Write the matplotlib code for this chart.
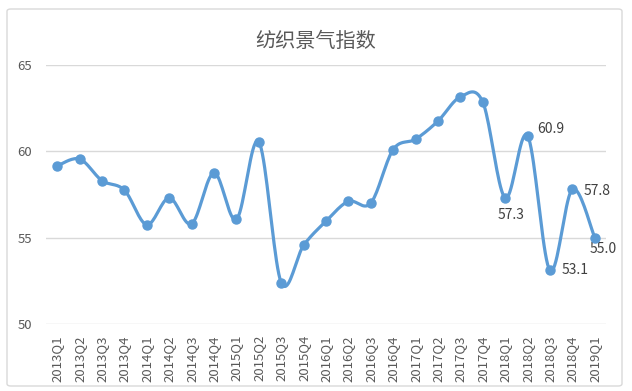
import numpy as np
import matplotlib.pyplot as plt
from matplotlib.patches import FancyBboxPatch

plt.rcParams['font.family'] = ['Noto Sans CJK SC', 'DejaVu Sans']

# === Data ===
quarters = ["2013Q1", "2013Q2", "2013Q3", "2013Q4",
            "2014Q1", "2014Q2", "2014Q3", "2014Q4",
            "2015Q1", "2015Q2", "2015Q3", "2015Q4",
            "2016Q1", "2016Q2", "2016Q3", "2016Q4",
            "2017Q1", "2017Q2", "2017Q3", "2017Q4",
            "2018Q1", "2018Q2", "2018Q3", "2018Q4",
            "2019Q1"]
index_values = [59.15, 59.55, 58.3, 57.75,
                55.75, 57.3, 55.8, 58.75,
                56.05, 60.55, 52.4, 54.55,
                55.95, 57.1, 57.0, 60.1,
                60.7, 61.75, 63.15, 62.85,
                57.3, 60.9, 53.1, 57.8,
                55.0]
labelled_quarters = ["2018Q1", "2018Q2", "2018Q3", "2018Q4", "2019Q1"]
y_ticks = [50, 55, 60, 65]

# label offsets (points) for the annotated values
label_offsets = {"2018Q1": (4, -12), "2018Q2": (17, 5), "2018Q3": (18, 0),
                 "2018Q4": (18, -1), "2019Q1": (6, -8)}

blue = "#5B9BD5"
grey = "#595959"


def smooth_curve(x, y, steps=20):
    # Excel-like smoothed line: cubic Bezier with Catmull-Rom control points
    x = np.asarray(x, float)
    y = np.asarray(y, float)
    px = np.concatenate([[x[0]], x, [x[-1]]])
    py = np.concatenate([[y[0]], y, [y[-1]]])
    t = np.linspace(0, 1, steps)[:, None]
    xs, ys = [], []
    for i in range(1, len(px) - 2):
        p0 = np.array([px[i], py[i]])
        p3 = np.array([px[i + 1], py[i + 1]])
        c1 = p0 + (np.array([px[i + 1], py[i + 1]]) - np.array([px[i - 1], py[i - 1]])) / 6
        c2 = p3 - (np.array([px[i + 2], py[i + 2]]) - np.array([px[i], py[i]])) / 6
        pts = ((1 - t) ** 3) * p0 + 3 * ((1 - t) ** 2) * t * c1 + 3 * (1 - t) * t ** 2 * c2 + t ** 3 * p3
        xs.append(pts[:, 0])
        ys.append(pts[:, 1])
    return np.concatenate(xs), np.concatenate(ys)


fig = plt.figure(figsize=(6.32, 3.91), dpi=100)
ax = fig.add_axes([0.0728, 0.1714, 0.886, 0.6626])

x = np.arange(len(quarters))
sx, sy = smooth_curve(x, index_values)
ax.plot(sx, sy, color=blue, lw=2.3, zorder=3, solid_capstyle='round')
ax.plot(x, index_values, 'o', color=blue, markersize=6.5, zorder=4)

for q in labelled_quarters:
    i = quarters.index(q)
    ax.annotate(f"{index_values[i]:.1f}", (i, index_values[i]),
                xytext=label_offsets[q], textcoords='offset points',
                ha='center', va='center', fontsize=10, color="#404040")

ax.set_xlim(-0.5, len(quarters) - 0.5)
ax.set_ylim(50, 65)
ax.set_yticks(y_ticks)
ax.set_xticks(x)
ax.set_xticklabels(quarters, rotation=90)
ax.tick_params(axis='both', length=0, colors=grey, labelsize=9.5)
ax.tick_params(axis='y', pad=10)
ax.tick_params(axis='x', pad=8)
ax.grid(axis='y', color="#D9D9D9", lw=1)
ax.set_axisbelow(True)
for s in ax.spines.values():
    s.set_visible(False)

fig.text(0.5, 0.893, "纺织景气指数", ha='center', va='center', fontsize=14.5, color=grey)

frame = FancyBboxPatch((7 / 632, 5 / 391), 615 / 632, 377 / 391,
                       boxstyle="round,pad=0,rounding_size=0.006",
                       transform=fig.transFigure, fill=False,
                       edgecolor="#D9D9D9", lw=1)
fig.patches.append(frame)

plt.savefig("out.png", dpi=100)
